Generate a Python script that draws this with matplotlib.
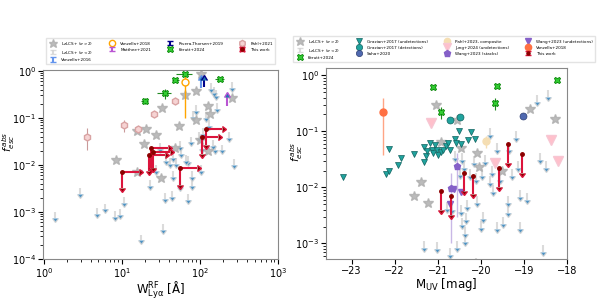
import numpy as np
import matplotlib.pyplot as plt

# ---------------- left panel: f_esc vs W(Lya) ----------------
# LzLCS+ detections (sigma > 2)
lz_det_ew = [103, 88, 64, 32.7, 53.8, 126, 135, 257, 88.6, 20.5, 15.7, 27.7,
             19.1, 47.4, 126, 101, 8.4, 15.7, 31.8]
lz_det_f = [0.86, 0.376, 0.30, 0.161, 0.066, 0.175, 0.122, 0.26, 0.091, 0.058,
            0.052, 0.044, 0.028, 0.023, 0.020, 0.034, 0.0129, 0.0069, 0.0053]
# LzLCS+ upper limits (sigma < 2)
lz_lim_ew = [255, 153, 161, 88, 163, 130, 81, 108, 232, 76, 98, 55, 30.6, 57.6,
             106, 156, 191, 45, 70, 37, 41, 27.6, 45, 79.6, 22.8, 55, 80, 104,
             272, 10.7, 2.93, 4.86, 6.04, 9.46, 8.1, 1.41, 36.1, 44.3, 70, 33.6,
             17.8, 66.6, 49.9, 149, 140, 118]
lz_lim_f = [0.59, 0.46, 0.39, 0.19, 0.21, 0.091, 0.137, 0.061, 0.051, 0.040,
            0.051, 0.032, 0.029, 0.023, 0.029, 0.027, 0.027, 0.0184, 0.0152,
            0.0164, 0.014, 0.010, 0.0073, 0.0073, 0.0048, 0.0045, 0.0048, 0.0101,
            0.0133, 0.0021, 0.0032, 0.0012, 0.0015, 0.00115, 0.00103, 0.00100,
            0.0025, 0.0028, 0.0024, 0.00054, 0.00033, 0.0165, 0.014, 0.034,
            0.55, 0.13]

kerutt_ew = [19.7, 35.4, 48.3, 64.2, 179]
kerutt_f = [0.23, 0.336, 0.644, 0.863, 0.676]
kerutt_ew_err = [2.0, 7.0, 5.0, 15.0, 25.0]
kerutt_f_err = [0.03, 0.08, 0.06, 0.05, 0.05]

pahl21_ew = [3.63, 10.7, 16.2, 25.9, 47.9]
pahl21_f = [0.039, 0.069, 0.059, 0.12, 0.23]
pahl21_f_lo = [0.018, 0.018, 0.006, 0.01, 0.01]
pahl21_f_hi = [0.021, 0.021, 0.006, 0.01, 0.01]

vanz18_ew = [64]
vanz18_f = [0.59]
vanz18_f_lo = [0.49]
vanz18_f_hi = [0.35]

vanz16_ew = [102]
vanz16_f = [0.44]
rivera_ew = [111]
rivera_f = [0.465]
matthee_ew = [224]
matthee_f = [0.175]

tw_ew = [10.1, 23.7, 22.1, 25.1, 55.9, 105.6, 119]
tw_ew_hi = [16.5, 38.5, 36.0, 41.7, 92.9, 172, 190]
tw_f = [0.0070, 0.0224, 0.0164, 0.0184, 0.0088, 0.0396, 0.0586]
tw_f_lo = [0.0033, 0.0086, 0.0075, 0.0086, 0.0038, 0.0173, 0.0259]

# ---------------- right panel: f_esc vs M_UV ----------------
r_det_m = [-21.04, -20.56, -18.86, -18.28, -20.93, -20.46, -20.09, -20.05,
           -21.39, -21.56, -21.23, -19.51]
r_det_f = [0.291, 0.157, 0.254, 0.169, 0.064, 0.0505, 0.041, 0.0231, 0.0125,
           0.0071, 0.0053, 0.0199]
r_lim_m = [-18.7, -18.43, -19.79, -19.18, -21.31, -21.03, -20.72, -20.12,
           -18.56, -18.62, -18.49, -18.93, -19.1, -19.38, -19.38, -19.48,
           -19.62, -19.09, -19.94, -19.99, -20.37, -20.37, -20.56, -20.44,
           -20.33, -20.1, -19.71, -19.79, -19.56, -20.12, -19.98, -20.25,
           -20.44, -20.48, -20.17, -19.9, -19.63, -19.34, -19.13, -19.28,
           -19.75, -20.79, -20.68, -20.45, -20.35, -20.6, -20.4]
r_lim_f = [0.45, 0.55, 0.115, 0.10, 0.0011, 0.00104, 0.00083, 0.00054,
           0.00095, 0.041, 0.029, 0.0079, 0.0091, 0.0069, 0.0046, 0.0030,
           0.0024, 0.0024, 0.0037, 0.0025, 0.0020, 0.0014, 0.0011, 0.0028,
           0.0060, 0.0070, 0.011, 0.0158, 0.018, 0.018, 0.021, 0.021,
           0.041, 0.022, 0.036, 0.038, 0.062, 0.062, 0.029, 0.021,
           0.024, 0.0056, 0.0052, 0.0049, 0.0035, 0.045, 0.030]

r_kerutt_m = [-21.1, -20.93, -19.62, -19.66, -18.24]
r_kerutt_f = [0.61, 0.218, 0.64, 0.316, 0.81]
r_kerutt_f_err = [0.05, 0.05, 0.05, 0.08, 0.05]

grazian_lim_m = [-23.2, -22.2, -22.13, -21.93, -21.86, -22.14, -21.56, -21.31,
                 -21.27, -21.31, -21.24, -21.18, -21.13, -21.10, -21.06, -21.01,
                 -20.995, -20.93, -20.87, -20.81, -20.76, -20.72, -20.61, -20.58,
                 -20.5, -20.45, -20.30, -20.23, -20.14]
grazian_lim_f = [0.0151, 0.0176, 0.0199, 0.0251, 0.033, 0.049, 0.039, 0.0288,
                 0.0358, 0.0526, 0.044, 0.0619, 0.047, 0.041, 0.0578, 0.047,
                 0.0373, 0.0422, 0.047, 0.054, 0.0619, 0.0458, 0.073, 0.062,
                 0.1, 0.059, 0.071, 0.096, 0.073]
grazian_det_m = [-20.72, -20.49]
grazian_det_f = [0.162, 0.178]

saha_m = [-19.01]
saha_f = [0.19]
pahl23_m = [-19.89]
pahl23_f = [0.066]
pahl23_f_err = [0.015]
jung_m = [-21.16, -19.67, -18.36, -18.21]
jung_f = [0.141, 0.027, 0.071, 0.030]
wang_st_m = [-20.55, -20.69]
wang_st_f = [0.0237, 0.0099]
wang_st_lo = [0.0207, 0.0089]
wang_st_hi = [0.0173, 0.0081]
wang_lim_m = [-20.62, -20.45, -20.72]
wang_lim_f = [0.0093, 0.0083, 0.0051]
r_vanz18_m = [-22.27]
r_vanz18_f = [0.219]
r_vanz18_lo = [0.181]
r_vanz18_hi = [0.171]

tw_m = [-20.93, -20.69, -20.38, -20.18, -19.58, -19.36, -19.04]
tw_m_f = [0.0087, 0.0069, 0.018, 0.0162, 0.0222, 0.0596, 0.0394]
tw_m_f_lo = [0.0040, 0.00325, 0.0085, 0.0076, 0.0102, 0.0273, 0.018]

GRAY_LIM = '#d3d3d3'
STAR = '#b0b0b0'
CRIMSON = '#dc143c'


def drop_flat_caps(container):
    # keep only the arrow heads, not the flat cap at the other end
    for cl in container[1]:
        if cl.get_marker() in ('_', '|'):
            cl.set_visible(False)
    return container


def uplims(ax, x, y, frac=0.25, **kw):
    y = np.asarray(y, dtype=float)
    h = ax.errorbar(x, y, yerr=[y * frac, np.zeros_like(y)], uplims=True,
                    fmt='none', **kw)
    return drop_flat_caps(h)


def lolims(ax, x, y, up, **kw):
    h = ax.errorbar(x, y, yerr=[[0] * len(y), up], lolims=True, fmt='none',
                    elinewidth=1.5, capsize=2.5, **kw)
    return drop_flat_caps(h)


def this_work(ax, x, y, ylo, xhi=None, label=None):
    y = np.asarray(y, dtype=float)
    x = np.asarray(x, dtype=float)
    yerr = [y - np.asarray(ylo), np.zeros_like(y)]
    xerr = None
    if xhi is not None:
        xerr = [np.zeros_like(x), np.asarray(xhi) - x]
    h = ax.errorbar(x, y, yerr=yerr, xerr=xerr, uplims=True,
                    xlolims=xhi is not None, fmt='o', ms=2.5, color='#8b0000',
                    ecolor=CRIMSON, elinewidth=1.5, capsize=2, label=label,
                    zorder=6)
    return drop_flat_caps(h)


fig = plt.figure(figsize=(5.98, 3.0), dpi=100)
ax1 = fig.add_axes([0.072, 0.137, 0.393, 0.63])
ax2 = fig.add_axes([0.545, 0.137, 0.403, 0.637])

leg_kw = dict(fontsize=3.0, loc='lower center', frameon=True, handlelength=2.2,
              handletextpad=0.8, columnspacing=3.5, borderpad=0.5,
              labelspacing=0.5, edgecolor='#dddddd', fancybox=False,
              markerscale=0.9)

# ---- left
h_lzlim = uplims(ax1, lz_lim_ew, lz_lim_f, ecolor=GRAY_LIM, elinewidth=1.5,
                 capsize=2, alpha=0.8, label=r'LzLCS+ ($\sigma < 2$)')
h_lzdet, = ax1.plot(lz_det_ew, lz_det_f, '*', ms=7, color=STAR, alpha=0.85,
                    ls='none', label=r'LzLCS+ ($\sigma > 2$)')
h_v16 = lolims(ax1, vanz16_ew, vanz16_f, [0.2], ecolor='cornflowerblue',
               label='Vanzella+2016')
h_v18 = ax1.errorbar(vanz18_ew, vanz18_f, yerr=[vanz18_f_lo, vanz18_f_hi],
                     fmt='o', ms=5, mfc='white', mec='orange', ecolor='orange',
                     elinewidth=1, label='Vanzella+2018', zorder=4)
h_mat = lolims(ax1, matthee_ew, matthee_f, [0.1], ecolor='mediumorchid',
               label='Matthee+2021')
h_riv = lolims(ax1, rivera_ew, rivera_f, [0.17], ecolor='darkblue',
               label='Rivera-Thorsen+2019')
h_ker = ax1.errorbar(kerutt_ew, kerutt_f, xerr=kerutt_ew_err, yerr=kerutt_f_err,
                     fmt='X', ms=5, mfc='limegreen', mec='green', mew=0.6,
                     ecolor='forestgreen', elinewidth=0.8, label='Kerutt+2024',
                     zorder=5)
h_p21 = ax1.errorbar(pahl21_ew, pahl21_f, yerr=[pahl21_f_lo, pahl21_f_hi],
                     fmt='h', ms=5, mfc='#f6d3d3', mec='#d9a3a3',
                     ecolor='#c99a9a', elinewidth=0.8, label='Pahl+2021')
h_tw = this_work(ax1, tw_ew, tw_f, tw_f_lo, tw_ew_hi, label='This work')

ax1.set_xscale('log')
ax1.set_yscale('log')
ax1.set_xlim(0.98, 1000)
ax1.set_ylim(1e-4, 1.05)
ax1.set_xlabel(r'W$_{\rm Ly\alpha}^{\rm RF}$ [Å]', fontsize=8.5, labelpad=0)
ax1.set_ylabel(r'$f_{esc}^{\,abs}$', fontsize=7.5)
ax1.yaxis.set_label_coords(-0.112, 0.62)

ax1.legend(handles=[h_lzdet, h_lzlim, h_v16, h_v18, h_mat, h_riv, h_ker,
                    h_p21, h_tw],
           ncol=4, bbox_to_anchor=(0.5, 1.02), **leg_kw)

# ---- right
r_lzlim = uplims(ax2, r_lim_m, r_lim_f, ecolor=GRAY_LIM, elinewidth=1.5,
                 capsize=2, alpha=0.8, label=r'LzLCS+ ($\sigma < 2$)')
r_lzdet, = ax2.plot(r_det_m, r_det_f, '*', ms=7, color=STAR, alpha=0.85,
                    ls='none', label=r'LzLCS+ ($\sigma > 2$)')
r_ker = ax2.errorbar(r_kerutt_m, r_kerutt_f, yerr=r_kerutt_f_err, fmt='X', ms=5,
                     mfc='limegreen', mec='green', mew=0.6, ecolor='forestgreen',
                     elinewidth=0.8, label='Kerutt+2024', zorder=5)
r_glim, = ax2.plot(grazian_lim_m, grazian_lim_f, 'v', ms=5, color='#20a39e',
                   mec='#11625f', mew=0.5, ls='none',
                   label='Grazian+2017 (undetections)')
r_gdet, = ax2.plot(grazian_det_m, grazian_det_f, 'o', ms=5, color='#20a39e',
                   mec='#11625f', mew=0.5, ls='none',
                   label='Grazian+2017 (detections)')
r_saha, = ax2.plot(saha_m, saha_f, 'o', ms=5, color='#5069b0', mec='#2f3f73',
                   mew=0.5, ls='none', label='Saha+2020')
r_p23 = ax2.errorbar(pahl23_m, pahl23_f, yerr=pahl23_f_err, fmt='o', ms=5,
                     color='wheat', ecolor='wheat', elinewidth=1,
                     label='Pahl+2023, composite')
r_jung, = ax2.plot(jung_m, jung_f, 'v', ms=7, color='pink', mec='#f7c6d3',
                   ls='none', label='Jung+2024 (undetections)')
r_wst = ax2.errorbar(wang_st_m, wang_st_f, yerr=[wang_st_lo, wang_st_hi],
                     fmt='p', ms=5, color='#8560c8', ecolor='#c9b8e6',
                     elinewidth=1, label='Wang+2023 (stacks)', zorder=4)
r_wlim, = ax2.plot(wang_lim_m, wang_lim_f, 'v', ms=5, color='#8560c8',
                   ls='none', label='Wang+2023 (undetections)')
r_v18 = ax2.errorbar(r_vanz18_m, r_vanz18_f, yerr=[r_vanz18_lo, r_vanz18_hi],
                     fmt='o', ms=5, color='#ff7043', ecolor='#ffa585',
                     elinewidth=1, label='Vanzella+2018')
r_tw = this_work(ax2, tw_m, tw_m_f, tw_m_f_lo, label='This work')

ax2.set_yscale('log')
ax2.set_xlim(-23.6, -18)
ax2.set_ylim(5.3e-4, 1.36)
ax2.set_xlabel(r'M$_{\rm UV}$ [mag]', fontsize=8.5, labelpad=0)
ax2.set_ylabel(r'$f_{esc}^{\,abs}$', fontsize=7.5)
ax2.yaxis.set_label_coords(-0.085, 0.56)

ax2.legend(handles=[r_lzdet, r_lzlim, r_ker, r_glim, r_gdet, r_saha, r_p23,
                    r_jung, r_wst, r_wlim, r_v18, r_tw],
           ncol=4, bbox_to_anchor=(0.49, 1.02), **leg_kw)

for ax in (ax1, ax2):
    ax.tick_params(labelsize=7, pad=1.5)
    for s in ax.spines.values():
        s.set_color('#888888')

fig.savefig('out.png', dpi=100)
